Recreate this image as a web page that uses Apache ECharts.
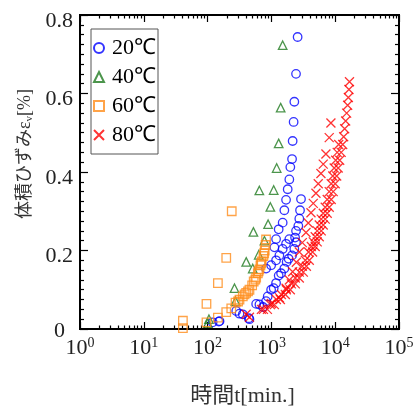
<!DOCTYPE html>
<html><head><meta charset="utf-8">
<script src="https://cdn.jsdelivr.net/npm/echarts@6/dist/echarts.min.js"></script>
<style>html,body{margin:0;padding:0;background:#fff}#c{width:419px;height:412px}</style>
</head><body><div id="c"></div>
<script>
// ---- data ----
const seriesNames = ['20℃', '40℃', '60℃', '80℃'];
const xExponents = [0, 1, 2, 3, 4, 5];
const yTickLabels = ['0', '0.2', '0.4', '0.6', '0.8'];

// [time (min), volumetric strain (%)]
const s20 = [
  [120,0.017],[150,0.019],[154,0.02],[281,0.046],[316,0.039],[356,0.0375],[442,0.0275],[453,0.025],
  [577,0.064],[649,0.0625],[737,0.056],[825,0.071],[875,0.083],[990,0.1],[1086,0.104],[1184,0.117],
  [1300,0.136],[1418,0.142],[1596,0.154],[1734,0.171],[1864,0.179],[2107,0.1875],[2288,0.204],
  [2432,0.221],[2350,0.233],[2432,0.25],[2642,0.2625],[2738,0.281],[2810,0.3025],[2911,0.331],
  [825,0.154],[990,0.1625],[1184,0.175],[1334,0.1875],[1502,0.204],[1697,0.217],[1910,0.229],
  [1114,0.208],[1184,0.229],[1300,0.254],[1502,0.271],[1596,0.3025],[1697,0.329],[1800,0.356],
  [1910,0.381],[1980,0.4125],[2107,0.433],[2152,0.479],[2230,0.5275],[2288,0.579],[2432,0.65],[2576,0.744]
];
const s40 = [
  [101,0.015],[105,0.025],[274,0.071],[264,0.104],[403,0.171],[510,0.154],[634,0.189],[778,0.225],
  [522,0.2475],[888,0.267],[963,0.311],[647,0.353],[1086,0.354],[1210,0.41],[1300,0.473],[1397,0.564],[1502,0.723]
];
const s60 = [
  [41,0.021],[41,0.002],[96,0.017],[96,0.064],[145,0.029],[145,0.117],[196,0.043],[196,0.181],
  [235,0.0525],[239,0.30],[274,0.067],[300,0.07],[316,0.075],[356,0.083],[380,0.088],[402,0.092],
  [430,0.096],[453,0.100],[499,0.111],[528,0.121],[560,0.126],[577,0.131],[613,0.142],[630,0.147],
  [649,0.152],[673,0.162],[690,0.167],[705,0.172],[750,0.186],[770,0.193],[786,0.200],[810,0.214],[825,0.228]
];
const s80 = [
  // left branch
  [402,0.0375],[453,0.03],[697,0.05],[1000,0.065],[1334,0.08],[1697,0.104],[1910,0.125],[2152,0.146],
  [2458,0.17],[2738,0.196],[3050,0.22],[3485,0.246],[3785,0.27],[4171,0.296],[4531,0.32],[4993,0.346],
  [5424,0.37],[5980,0.396],[6493,0.42],[7156,0.446],[8058,0.4875],[8570,0.525],
  // main band (right)
  [866,0.05],[1114,0.062],[1383,0.075],[1655,0.088],[1980,0.10],[2371,0.115],[2738,0.13],[3162,0.145],
  [3535,0.16],[3926,0.175],[4421,0.196],[4863,0.21],[5225,0.222],[5623,0.235],[6043,0.25],[6493,0.265],
  [6977,0.28],[7500,0.295],[8058,0.31],[8660,0.33],[9306,0.35],[10000,0.37],[10556,0.39],[11140,0.41],
  [11758,0.43],[12409,0.45],[13098,0.47],[13576,0.49],[14072,0.51],[14588,0.53],[15121,0.55],[15675,0.57],
  [16076,0.59],[16428,0.61],[16740,0.63],
  // main band (inner)
  [750,0.05],[964,0.062],[1197,0.075],[1433,0.088],[1714,0.10],[2054,0.115],[2371,0.13],[2738,0.145],
  [3050,0.16],[3398,0.175],[3827,0.196],[4227,0.21],[4531,0.222],[4863,0.235],[5225,0.25],[5623,0.265],
  [6043,0.28],[6493,0.295],[6977,0.31],[7500,0.33],[8058,0.35],[8660,0.37],[9165,0.39],[9646,0.41],
  [10182,0.43],[10746,0.45],[11342,0.47]
];

// ---- styles ----
const serif = "'Liberation Serif','Times New Roman',serif";
const cjk = "'Liberation Serif','Noto Sans CJK JP',sans-serif";
const minorX = [];
for (let d = 0; d < 5; d++) for (let k = 2; k <= 9; k++) minorX.push(k * Math.pow(10, d));

function xAxisDef(pos, major, withLabels) {
  const ax = {
    type: 'log', logBase: 10, min: 1, max: 100000, position: pos,
    axisLine: {show: false}, splitLine: {show: false},
    axisTick: {inside: true, length: major ? 7 : 3.5, lineStyle: {color: '#000', width: 1.2}},
    axisLabel: {show: false}
  };
  if (!major) ax.axisTick.customValues = minorX;
  if (withLabels) {
    ax.axisLabel = {
      show: true, margin: 7,
      formatter: v => '{b|10}{s|' + xExponents[Math.round(Math.log10(v))] + '}',
      rich: {
        b: {fontFamily: serif, fontSize: 22, color: '#222'},
        s: {fontFamily: serif, fontSize: 14, color: '#222', verticalAlign: 'top', padding: [0, 0, 10, 0]}
      }
    };
    ax.name = '時間t[min.]';
    ax.nameLocation = 'middle';
    ax.nameGap = 56;
    ax.nameTextStyle = {fontFamily: cjk, fontSize: 22, color: '#333', padding: [0, 0, 0, 6]};
  }
  return ax;
}
function yAxisDef(pos, withLabels) {
  const ax = {
    type: 'value', min: 0, max: 0.8, interval: 0.2, position: pos,
    axisLine: {show: false}, splitLine: {show: false},
    axisTick: {inside: true, length: 8, lineStyle: {color: '#000', width: 1.2}},
    minorTick: {show: true, splitNumber: 8, length: 4, lineStyle: {color: '#000', width: 1.2}},
    minorSplitLine: {show: false},
    axisLabel: {show: false}
  };
  if (withLabels) {
    ax.axisLabel = {
      show: true, margin: 7,
      formatter: v => {
        const s = yTickLabels[Math.round(v / 0.2)];
        return s === '0' ? '{z|' + s + '}' : '{n|' + s + '}';
      },
      rich: {
        n: {fontFamily: serif, fontSize: 22, color: '#222', padding: [12, 0, 0, 0]},
        z: {fontFamily: serif, fontSize: 22, color: '#222', padding: [4, 8, 0, 0]}
      }
    };
    ax.name = '{a|体積ひずみε}{s|v}{a|[%]}';
    ax.nameLocation = 'middle';
    ax.nameGap = 45;
    ax.nameTextStyle = {
      padding: [0, 0, 0, 36],
      rich: {
        a: {fontFamily: cjk, fontSize: 18, color: '#333'},
        s: {fontFamily: serif, fontSize: 11, color: '#333', verticalAlign: 'bottom', padding: [8, 0, 0, 0]}
      }
    };
  }
  return ax;
}

const hollow = c => ({color: 'rgba(0,0,0,0)', borderColor: c, borderWidth: 1.3});
const option = {
  animation: false,
  backgroundColor: '#fff',
  grid: {left: 80, top: 15, width: 319, height: 320, show: true, borderColor: '#000', borderWidth: 2},
  legend: {
    orient: 'vertical', left: 91, top: 29, padding: [7, 2, 7, 2], itemGap: 5,
    itemWidth: 10, itemHeight: 10, borderColor: '#555', borderWidth: 1,
    textStyle: {fontFamily: serif, fontSize: 22, color: '#000', lineHeight: 24, padding: [0, 0, 0, 3]},
    data: seriesNames
  },
  xAxis: [xAxisDef('bottom', true, true), xAxisDef('bottom', false, false), xAxisDef('top', true, false), xAxisDef('top', false, false)],
  yAxis: [yAxisDef('left', true), yAxisDef('right', false)],
  series: [
    {name: seriesNames[0], type: 'scatter', data: s20, symbol: 'circle', symbolSize: 8.5, itemStyle: hollow('#0000ff')},
    {name: seriesNames[1], type: 'scatter', data: s40, symbol: 'triangle', symbolSize: 8.5, itemStyle: hollow('#1f7a1f')},
    {name: seriesNames[2], type: 'scatter', data: s60, symbol: 'rect', symbolSize: 8.5, itemStyle: hollow('#ff8c1a')},
    {name: seriesNames[3], type: 'scatter', data: s80, symbol: 'path://M0,0L10,10M10,0L0,10', symbolSize: 9, itemStyle: hollow('#ff0000')}
  ]
};
const chart = echarts.init(document.getElementById('c'), null, {renderer: 'canvas'});
chart.setOption(option);
</script>
</body></html>
